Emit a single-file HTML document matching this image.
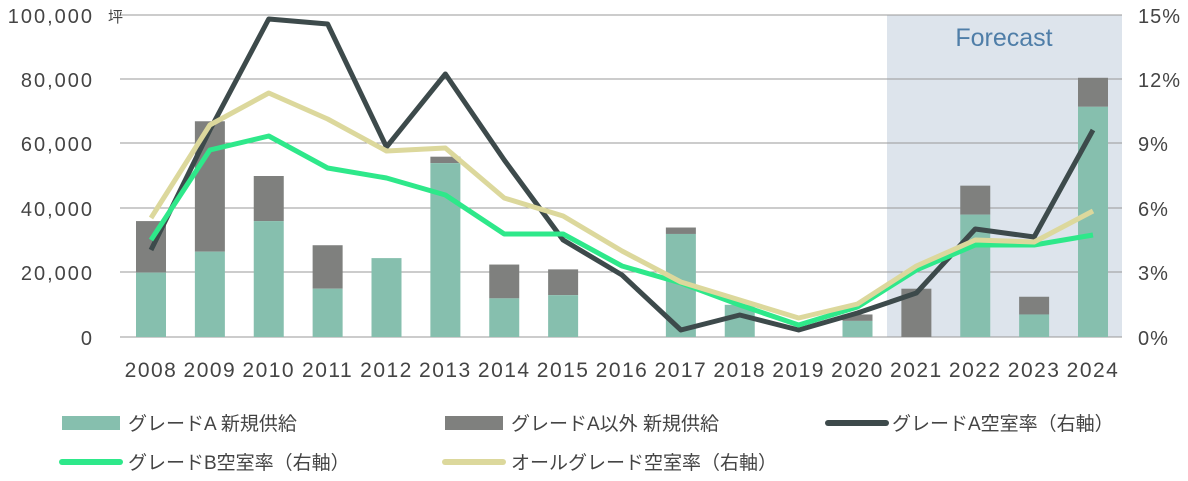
<!DOCTYPE html>
<html><head><meta charset="utf-8"><style>
body{margin:0;background:#fff;}
text{font-family:"Liberation Sans","Noto Sans CJK JP",sans-serif;fill:#444;}
</style></head><body>
<svg width="1188" height="476" xmlns="http://www.w3.org/2000/svg">
<rect x="887" y="15" width="235" height="322" fill="#dde4ec"/>
<text x="1004" y="46" font-size="25" text-anchor="middle" style="fill:#4f7ea8">Forecast</text>
<g stroke="#999" stroke-width="1">
<line x1="120" x2="1122" y1="15" y2="15"/><line x1="120" x2="1122" y1="79" y2="79"/>
<line x1="120" x2="1122" y1="143" y2="143"/><line x1="120" x2="1122" y1="208" y2="208"/>
<line x1="120" x2="1122" y1="272" y2="272"/><line x1="120" x2="1122" y1="337" y2="337"/>
</g>
<g font-size="20" text-anchor="end" letter-spacing="2">
<text x="94" y="23">100,000</text><text x="94" y="87">80,000</text><text x="94" y="151">60,000</text>
<text x="94" y="216">40,000</text><text x="94" y="280">20,000</text><text x="94" y="345">0</text>
</g>
<text x="108" y="22" font-size="15">坪</text>
<g font-size="20" text-anchor="start" letter-spacing="1">
<text x="1138" y="23">15%</text><text x="1138" y="87">12%</text><text x="1138" y="151">9%</text>
<text x="1138" y="216">6%</text><text x="1138" y="280">3%</text><text x="1138" y="345">0%</text>
</g>
<g id="bars"></g>
<g font-size="21" text-anchor="middle" letter-spacing="1.5" id="xl"></g>
<polyline id="la" fill="none" stroke="#3d4a4b" stroke-width="5" stroke-linejoin="round"/>
<polyline id="lb" fill="none" stroke="#2ee88a" stroke-width="5" stroke-linejoin="round"/>
<polyline id="lc" fill="none" stroke="#dcd89c" stroke-width="5" stroke-linejoin="round"/>
<rect x="62" y="416" width="58" height="14" fill="#86bfae"/>
<text x="128" y="430" font-size="19">グレードA 新規供給</text>
<rect x="445" y="416" width="58" height="14" fill="#7f807e"/>
<text x="511" y="430" font-size="19">グレードA以外 新規供給</text>
<line x1="828" x2="886" y1="423" y2="423" stroke="#3d4a4b" stroke-width="6" stroke-linecap="round"/>
<text x="892" y="430" font-size="19">グレードA空室率（右軸）</text>
<line x1="62" x2="120" y1="462" y2="462" stroke="#2ee88a" stroke-width="6" stroke-linecap="round"/>
<text x="128" y="469" font-size="19">グレードB空室率（右軸）</text>
<line x1="445" x2="503" y1="462" y2="462" stroke="#dcd89c" stroke-width="6" stroke-linecap="round"/>
<text x="511" y="469" font-size="19">オールグレード空室率（右軸）</text>
</svg>
<script>
var ns="http://www.w3.org/2000/svg";
function X(i){return 151+i*58.875;}
function Y(v){return 337-v*0.00322;}
var a=[20000,26500,36000,15000,24500,54000,12000,13000,0,32000,10000,0,5000,0,38000,7000,71500];
var t=[36000,67000,50000,28500,24500,56000,22500,21000,0,34000,10000,0,7000,15000,47000,12500,80500];
var bars=document.getElementById('bars'),xl=document.getElementById('xl');
for(var i=0;i<17;i++){
 if(t[i]>a[i]){var r=document.createElementNS(ns,'rect');r.setAttribute('x',X(i)-15);r.setAttribute('width',30);r.setAttribute('y',Y(t[i]));r.setAttribute('height',Y(a[i])-Y(t[i]));r.setAttribute('fill','#7f807e');bars.appendChild(r);}
 if(a[i]>0){var r=document.createElementNS(ns,'rect');r.setAttribute('x',X(i)-15);r.setAttribute('width',30);r.setAttribute('y',Y(a[i]));r.setAttribute('height',337-Y(a[i]));r.setAttribute('fill','#86bfae');bars.appendChild(r);}
 var tx=document.createElementNS(ns,'text');tx.setAttribute('x',X(i));tx.setAttribute('y',377);tx.textContent=2008+i;xl.appendChild(tx);
}
function pl(id,ys){document.getElementById(id).setAttribute('points',ys.map(function(y,i){return X(i)+','+y}).join(' '));}
pl('la',[250,130,19,24,147,74,160,240,275,330,315,330,313,293,229,237,130]);
pl('lb',[240,150,136,168,178,195,234,234,266,283,305,325,307,270,245,245,235]);
pl('lc',[218,125,93,119,151,148,198,216,251,282,300,318,304,266,240,242,211]);
</script>
</body></html>
